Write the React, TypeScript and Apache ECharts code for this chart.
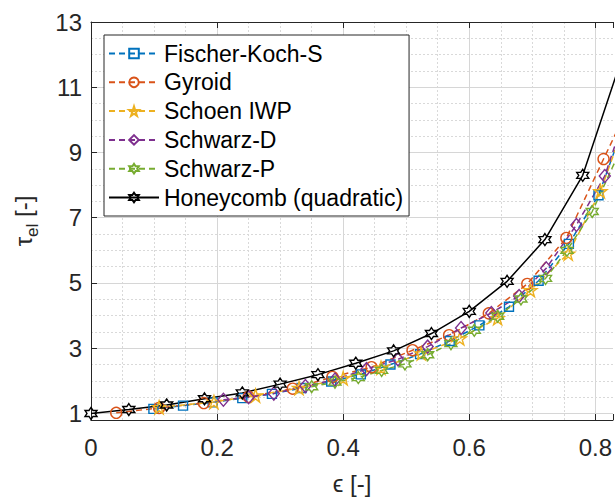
import React, { useEffect, useRef } from "react";
import * as echarts from "echarts";

// ---------------- data ----------------
const fischerX = [0.099, 0.146, 0.193, 0.24, 0.287, 0.334, 0.381, 0.428, 0.475, 0.522, 0.569, 0.616, 0.663, 0.71, 0.758, 0.805, 0.852];
const fischerY = [1.14, 1.24, 1.34, 1.47, 1.6, 1.78, 1.98, 2.2, 2.5, 2.82, 3.22, 3.7, 4.27, 5.07, 6.2, 7.69, 10.2];

const gyroidX = [0.04, 0.108, 0.179, 0.25, 0.32, 0.383, 0.445, 0.51, 0.568, 0.631, 0.692, 0.754, 0.813, 0.87];
const gyroidY = [1.02, 1.17, 1.32, 1.51, 1.76, 2.12, 2.42, 2.94, 3.4, 4.07, 4.97, 6.38, 8.8, 11.1];

const schoenX = [0.108, 0.195, 0.261, 0.33, 0.4, 0.46, 0.524, 0.585, 0.645, 0.697, 0.757, 0.808, 0.86];
const schoenY = [1.19, 1.35, 1.55, 1.78, 2.08, 2.4, 2.84, 3.3, 3.92, 4.78, 5.9, 7.81, 10.6];

const schwarzDX = [0.21, 0.25, 0.29, 0.34, 0.387, 0.437, 0.487, 0.534, 0.587, 0.635, 0.679, 0.722, 0.77, 0.815, 0.86];
const schwarzDY = [1.42, 1.5, 1.61, 1.84, 2.04, 2.36, 2.66, 3.05, 3.62, 4.08, 4.6, 5.45, 6.78, 8.28, 10.9];

const schwarzPX = [0.35, 0.387, 0.424, 0.461, 0.498, 0.534, 0.571, 0.608, 0.645, 0.682, 0.721, 0.755, 0.795, 0.832];
const schwarzPY = [1.82, 1.96, 2.1, 2.32, 2.52, 2.8, 3.14, 3.55, 3.98, 4.51, 5.14, 6.0, 7.19, 8.75];

const honeycombX = [0, 0.06, 0.12, 0.18, 0.24, 0.3, 0.36, 0.42, 0.48, 0.54, 0.6, 0.66, 0.72, 0.78, 0.84];
const honeycombY = [1.0, 1.12, 1.26, 1.45, 1.63, 1.9, 2.19, 2.54, 2.92, 3.45, 4.13, 5.05, 6.33, 8.3, 11.78];

const seriesNames = ["Fischer-Koch-S", "Gyroid", "Schoen IWP", "Schwarz-D", "Schwarz-P", "Honeycomb (quadratic)"];

const xMin = 0;
const xMax = 0.828;
const xInterval = 0.2;
const yMin = 0.8;
const yMax = 13;
const yTickValues = [1, 3, 5, 7, 9, 11, 13];
const xMajorGrid = [0.2, 0.4, 0.6, 0.8];
const xMinorGrid = [0.05, 0.1, 0.15, 0.25, 0.3, 0.35, 0.45, 0.5, 0.55, 0.65, 0.7, 0.75];
const yMinorGrid = [1.5, 2, 2.5, 3.5, 4, 4.5, 5.5, 6, 6.5, 7.5, 8, 8.5, 9.5, 10, 10.5, 11.5, 12, 12.5];

// ---------------- styles ----------------
const FONT = '"Liberation Sans", Arial, Helvetica, sans-serif';
const AXIS_COLOR = "#262626";
const C_BLUE = "#0072BD";
const C_ORANGE = "#D95319";
const C_YELLOW = "#EDB120";
const C_PURPLE = "#7E2F8E";
const C_GREEN = "#77AC30";
const C_BLACK = "#000000";

function starPath(n: number, outer: number, inner: number): string {
  const pts: string[] = [];
  for (let i = 0; i < 2 * n; i++) {
    const r = i % 2 === 0 ? outer : inner;
    const a = -Math.PI / 2 + (i * Math.PI) / n;
    pts.push(`${(r * Math.cos(a)).toFixed(4)} ${(r * Math.sin(a)).toFixed(4)}`);
  }
  return "path://M" + pts.join(" L") + " Z";
}
const PENTAGRAM = starPath(5, 1, 0.382);
const HEXAGRAM = starPath(6, 1, 0.577);

function makeSeries(name: string, xs: number[], ys: number[], color: string, symbol: string, size: number | number[], dashed: boolean) {
  return {
    name,
    type: "line",
    data: xs.map((x, i) => [x, ys[i]]),
    symbol,
    symbolSize: size,
    showSymbol: true,
    showAllSymbol: true,
    clip: true,
    color,
    lineStyle: { color, width: 1.5, type: dashed ? [6, 4] : "solid" },
    itemStyle: { color: "rgba(255,255,255,0)", borderColor: color, borderWidth: 1.4 },
    emphasis: { disabled: true },
    z: 3,
  };
}

export default function App() {
  const ref = useRef<HTMLDivElement>(null);

  useEffect(() => {
    if (!ref.current) return;
    const chart = echarts.init(ref.current, undefined, { renderer: "svg" });

    const gridLines: any[] = [];
    xMajorGrid.forEach((v) => gridLines.push({ xAxis: v, lineStyle: { color: "#d6d6d6", width: 1, type: "solid" } }));
    xMinorGrid.forEach((v) => gridLines.push({ xAxis: v, lineStyle: { color: "#d9d9d9", width: 1, type: [2, 2] } }));
    yTickValues.forEach((v) => gridLines.push({ yAxis: v, lineStyle: { color: "#d6d6d6", width: 1, type: "solid" } }));
    yMinorGrid.forEach((v) => gridLines.push({ yAxis: v, lineStyle: { color: "#d9d9d9", width: 1, type: [2, 2] } }));

    const option: any = {
      animation: false,
      backgroundColor: "#ffffff",
      textStyle: { fontFamily: FONT },
      grid: { left: 91, right: 0, top: 22, bottom: 76, containLabel: false },
      legend: {
        data: seriesNames,
        orient: "vertical",
        left: 104,
        top: 35,
        itemWidth: 50,
        itemHeight: 12,
        itemGap: 5.8,
        padding: [7, 6, 7, 4],
        backgroundColor: "#ffffff",
        borderColor: AXIS_COLOR,
        borderWidth: 1,
        borderRadius: 0,
        selectedMode: false,
        textStyle: { fontSize: 23, fontFamily: FONT, color: "#000000", lineHeight: 23 },
        z: 10,
      },
      xAxis: [
        {
          type: "value",
          min: xMin,
          max: xMax,
          interval: xInterval,
          position: "bottom",
          axisLine: { show: true, onZero: false, lineStyle: { color: AXIS_COLOR, width: 1 } },
          axisTick: { show: true, inside: true, length: 6, lineStyle: { color: AXIS_COLOR } },
          axisLabel: {
            fontSize: 24,
            fontFamily: FONT,
            color: AXIS_COLOR,
            margin: 15,
            formatter: (v: number) => {
              const k = v / xInterval;
              return Math.abs(k - Math.round(k)) < 1e-6 ? String(+v.toFixed(1)) : "";
            },
          },
          splitLine: { show: false },
          name: "ϵ [-]",
          nameLocation: "middle",
          nameGap: 51,
          nameTextStyle: { fontSize: 24, fontFamily: FONT, color: AXIS_COLOR },
        },
        {
          type: "value",
          min: xMin,
          max: xMax,
          interval: xInterval,
          position: "top",
          axisLine: { show: true, onZero: false, lineStyle: { color: AXIS_COLOR, width: 1 } },
          axisTick: { show: true, inside: true, length: 6, lineStyle: { color: AXIS_COLOR } },
          axisLabel: { show: false },
          splitLine: { show: false },
        },
      ],
      yAxis: {
        type: "value",
        min: yMin,
        max: yMax,
        axisLine: { show: true, onZero: false, lineStyle: { color: AXIS_COLOR, width: 1 } },
        axisTick: { show: true, inside: true, length: 6, customValues: yTickValues, lineStyle: { color: AXIS_COLOR } },
        axisLabel: { customValues: yTickValues, fontSize: 24, fontFamily: FONT, color: AXIS_COLOR, margin: 9 },
        splitLine: { show: false },
        name: "{t|τ}{s|el}{t| [-]}",
        nameLocation: "middle",
        nameRotate: 90,
        nameGap: 50,
        nameTextStyle: {
          rich: {
            t: { fontSize: 24, fontFamily: FONT, color: AXIS_COLOR, lineHeight: 36, verticalAlign: "middle" },
            s: { fontSize: 17, fontFamily: FONT, color: AXIS_COLOR, lineHeight: 36, verticalAlign: "bottom" },
          },
        },
      },
      series: [
        {
          name: "__grid",
          type: "line",
          data: [[0, 0.8]],
          showSymbol: false,
          symbol: "none",
          lineStyle: { opacity: 0 },
          silent: true,
          z: 0,
          markLine: {
            silent: true,
            symbol: ["none", "none"],
            label: { show: false },
            emphasis: { disabled: true },
            animation: false,
            z: 0,
            data: gridLines,
          },
        },
        makeSeries(seriesNames[0], fischerX, fischerY, C_BLUE, "rect", 9, true),
        makeSeries(seriesNames[1], gyroidX, gyroidY, C_ORANGE, "circle", 11, true),
        makeSeries(seriesNames[2], schoenX, schoenY, C_YELLOW, PENTAGRAM, 13, true),
        makeSeries(seriesNames[3], schwarzDX, schwarzDY, C_PURPLE, "diamond", [11, 13], true),
        makeSeries(seriesNames[4], schwarzPX, schwarzPY, C_GREEN, HEXAGRAM, 12, true),
        makeSeries(seriesNames[5], honeycombX, honeycombY, C_BLACK, HEXAGRAM, 12, false),
      ],
    };

    chart.setOption(option);
    return () => {
      chart.dispose();
    };
  }, []);

  return (
    <div
      ref={ref}
      style={{ position: "absolute", left: 0, top: 0, width: 616, height: 500, background: "#ffffff" }}
    />
  );
}
